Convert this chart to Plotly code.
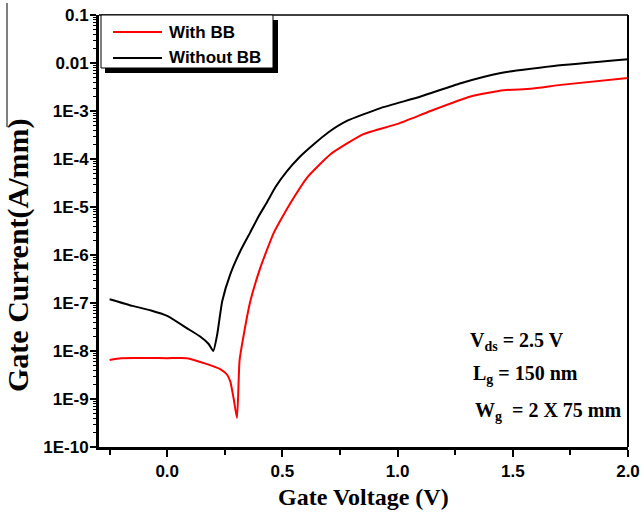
import plotly.graph_objects as go

# ---- data ----
vg_without = [-0.25, -0.15, -0.07, 0.0, 0.085, 0.143, 0.18, 0.2, 0.217, 0.239, 0.274, 0.317,
              0.361, 0.40, 0.435, 0.47, 0.52, 0.575, 0.635, 0.70, 0.78, 0.926, 1.1, 1.274,
              1.448, 1.678, 2.0]
ig_without = [1.2e-7, 8.7e-8, 7.0e-8, 5.4e-8, 3.0e-8, 2.0e-8, 1.4e-8, 1.0e-8, 2.2e-8, 1.1e-7,
              4.0e-7, 1.2e-6, 3.0e-6, 6.8e-6, 1.3e-5, 2.6e-5, 5.6e-5, 1.1e-4, 2.0e-4, 3.6e-4,
              6.2e-4, 1.15e-3, 2.0e-3, 3.8e-3, 6.2e-3, 8.7e-3, 1.2e-2]

vg_with = [-0.25, -0.2, 0.0, 0.085, 0.17, 0.23, 0.26, 0.274, 0.288, 0.303, 0.314, 0.33,
           0.361, 0.404, 0.461, 0.49, 0.543, 0.609, 0.709, 0.852, 1.0, 1.143, 1.317, 1.46,
           1.578, 1.709, 2.0]
ig_with = [6.5e-9, 7.1e-9, 7.1e-9, 7.1e-9, 5.4e-9, 4.2e-9, 3.2e-9, 2.3e-9, 1.05e-9, 4.0e-10,
           6.3e-9, 1.9e-8, 1.1e-7, 5.4e-7, 2.8e-6, 5.1e-6, 1.4e-5, 4.2e-5, 1.26e-4, 3.3e-4,
           5.4e-4, 1.0e-3, 2.0e-3, 2.7e-3, 2.9e-3, 3.5e-3, 4.9e-3]

y_tickvals = [1e-10, 1e-9, 1e-8, 1e-7, 1e-6, 1e-5, 1e-4, 1e-3, 1e-2, 1e-1]
y_ticktext = ["1E-10", "1E-9", "1E-8", "1E-7", "1E-6", "1E-5", "1E-4", "1E-3", "0.01", "0.1"]
x_tickvals = [0.0, 0.5, 1.0, 1.5, 2.0]
x_ticktext = ["0.0", "0.5", "1.0", "1.5", "2.0"]

series_names = ["With BB", "Without BB"]
series_colors = ["#ff0000", "#000000"]

# ---- layout geometry ----
W, H = 644, 517
L, R, T, B = 99, 16, 15, 70
PW, PH = W - L - R, H - T - B


def px(x):
    return (x - L) / PW


def py(y):
    return 1 - (y - T) / PH


fig = go.Figure()
fig.add_trace(go.Scatter(x=vg_with, y=ig_with, mode="lines", name=series_names[0],
                         line=dict(color=series_colors[0], width=2, shape="spline",
                                   smoothing=0.5),
                         showlegend=False))
fig.add_trace(go.Scatter(x=vg_without, y=ig_without, mode="lines", name=series_names[1],
                         line=dict(color=series_colors[1], width=2, shape="spline",
                                   smoothing=0.5),
                         showlegend=False))

tickfont = dict(family="Liberation Sans, Arial", size=17, color="black", weight="bold")
serif = "Liberation Serif, Times New Roman"

fig.update_layout(
    width=W, height=H,
    margin=dict(l=L, r=R, t=T, b=B, autoexpand=False),
    paper_bgcolor="white", plot_bgcolor="white",
    showlegend=False,
    xaxis=dict(range=[-0.296, 2.0], showgrid=False, zeroline=False, automargin=False,
               showline=True, linewidth=3, linecolor="black",
               tickmode="array", tickvals=x_tickvals, ticktext=x_ticktext,
               ticks="outside", ticklen=7, tickwidth=2, tickcolor="black",
               minor=dict(ticks="outside", ticklen=5, tickwidth=2, tickcolor="black",
                          tick0=-0.25, dtick=0.5),
               tickfont=tickfont),
    yaxis=dict(type="log", range=[-10, -1], showgrid=False, zeroline=False, automargin=False,
               showline=True, linewidth=3, linecolor="black",
               tickmode="array", tickvals=y_tickvals, ticktext=y_ticktext,
               ticks="outside", ticklen=6, tickwidth=2, tickcolor="black",
               ticklabelstandoff=-2,
               minor=dict(ticks="outside", ticklen=3, tickwidth=1, tickcolor="black",
                          dtick="D1"),
               tickfont=tickfont),
)

shapes = []
# top and right frame
shapes.append(dict(type="line", xref="paper", yref="paper", x0=0, x1=1, y0=1, y1=1,
                   line=dict(color="black", width=1.5)))
shapes.append(dict(type="line", xref="paper", yref="paper", x0=1, x1=1, y0=0, y1=1,
                   line=dict(color="black", width=2)))
# legend shadow + box
shapes.append(dict(type="rect", xref="paper", yref="paper", x0=px(105), x1=px(278),
                   y0=py(73), y1=py(20), fillcolor="black", line=dict(width=0)))
shapes.append(dict(type="rect", xref="paper", yref="paper", x0=px(101), x1=px(273),
                   y0=py(68), y1=py(15), fillcolor="white",
                   line=dict(color="black", width=1)))
# legend samples
for i, yy in enumerate([32, 58]):
    shapes.append(dict(type="line", xref="paper", yref="paper", x0=px(113), x1=px(162),
                       y0=py(yy), y1=py(yy), line=dict(color=series_colors[i], width=2)))
# stray vertical line near y title
shapes.append(dict(type="line", xref="paper", yref="paper", x0=px(7), x1=px(7),
                   y0=py(127), y1=py(3), line=dict(color="black", width=1)))
fig.update_layout(shapes=shapes)

ann = []
for i, yy in enumerate([32, 58]):
    ann.append(dict(xref="paper", yref="paper", x=px(167), y=py(yy), xanchor="left",
                    yanchor="middle", showarrow=False, text=series_names[i],
                    font=dict(family="Liberation Sans, Arial", size=17, color="black",
                              weight="bold")))
notes = [("V<sub>ds</sub> = 2.5 V", 468, 341),
         ("L<sub>g</sub> = 150 nm", 471, 374),
         ("W<sub>g</sub>&nbsp; = 2 X 75 mm", 473, 411)]
for t, xx, yy in notes:
    ann.append(dict(xref="paper", yref="paper", x=px(xx), y=py(yy), xanchor="left",
                    yanchor="middle", showarrow=False, text=t,
                    font=dict(family=serif, size=20, color="black", weight="bold")))
ann.append(dict(xref="paper", yref="paper", x=px(363), y=py(497), xanchor="center",
                yanchor="middle", showarrow=False, text="Gate Voltage (V)",
                font=dict(family=serif, size=24, color="black", weight="bold")))
ann.append(dict(xref="paper", yref="paper", x=px(18), y=py(255), xanchor="center",
                yanchor="middle", showarrow=False, text="Gate Current(A/mm)", textangle=-90,
                font=dict(family=serif, size=30, color="black", weight="bold")))
fig.update_layout(annotations=ann)

fig.write_html("out.html")
